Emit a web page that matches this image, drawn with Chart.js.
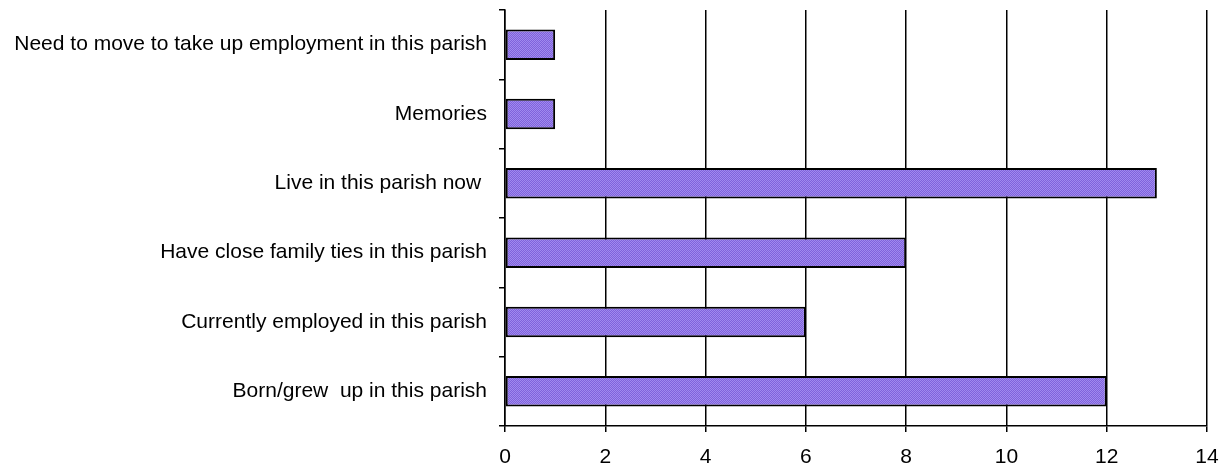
<!DOCTYPE html>
<html>
<head>
<meta charset="utf-8">
<script src="https://cdn.jsdelivr.net/npm/chart.js@4"></script>
<style>
html,body{margin:0;padding:0;background:#fff;}
#wrap{width:1229px;height:468px;position:relative;}
</style>
</head>
<body>
<div id="wrap"><canvas id="c" width="1229" height="468"></canvas></div>
<script>
const categories = [
  "Need to move to take up employment in this parish",
  "Memories",
  "Live in this parish now ",
  "Have close family ties in this parish",
  "Currently employed in this parish",
  "Born/grew  up in this parish"
];
const counts = [1, 1, 13, 8, 6, 12];
const xTicks = [0, 2, 4, 6, 8, 10, 12, 14];

function makePattern() {
  const p = document.createElement('canvas');
  p.width = 2; p.height = 2;
  const g = p.getContext('2d');
  g.fillStyle = '#7f62dc'; g.fillRect(0,0,2,2);
  g.fillStyle = '#a08aee'; g.fillRect(0,0,1,1); g.fillRect(1,1,1,1);
  return g.createPattern(p, 'repeat');
}
const ctx = document.getElementById('c').getContext('2d');
const fillPat = makePattern();
const font = {family: "'Liberation Sans', Arial, sans-serif", size: 21};

new Chart(ctx, {
  type: 'bar',
  data: {
    labels: categories,
    datasets: [{
      data: counts,
      backgroundColor: fillPat,
      borderColor: '#000',
      borderWidth: 2,
      borderSkipped: false,
      categoryPercentage: 1,
      barPercentage: 0.44
    }]
  },
  options: {
    indexAxis: 'y',
    responsive: false,
    animation: false,
    devicePixelRatio: 1,
    layout: {padding: {left: 0, right: 22, top: 10, bottom: 0}},
    plugins: {legend: {display: false}, tooltip: {enabled: false}},
    scales: {
      x: {
        min: 0, max: 14,
        afterBuildTicks: s => { s.ticks = xTicks.map(v => ({value: v})); },
        afterFit: s => { s.height = 42; s.paddingLeft = 0; s.paddingRight = 0; },
        grid: {color: '#000', lineWidth: 1.5, tickLength: 6, drawTicks: true},
        border: {color: '#000', width: 1.5},
        ticks: {color: '#000', font: font, padding: 13, maxRotation: 0}
      },
      y: {
        afterFit: s => { s.width = 505; s.paddingTop = 0; s.paddingBottom = 0; },
        grid: {offset: true, drawOnChartArea: false, drawTicks: true, tickLength: 6, color: '#000', lineWidth: 1.5},
        border: {color: '#000', width: 1.5},
        ticks: {color: '#000', font: font, padding: 12}
      }
    }
  }
});
</script>
</body>
</html>
